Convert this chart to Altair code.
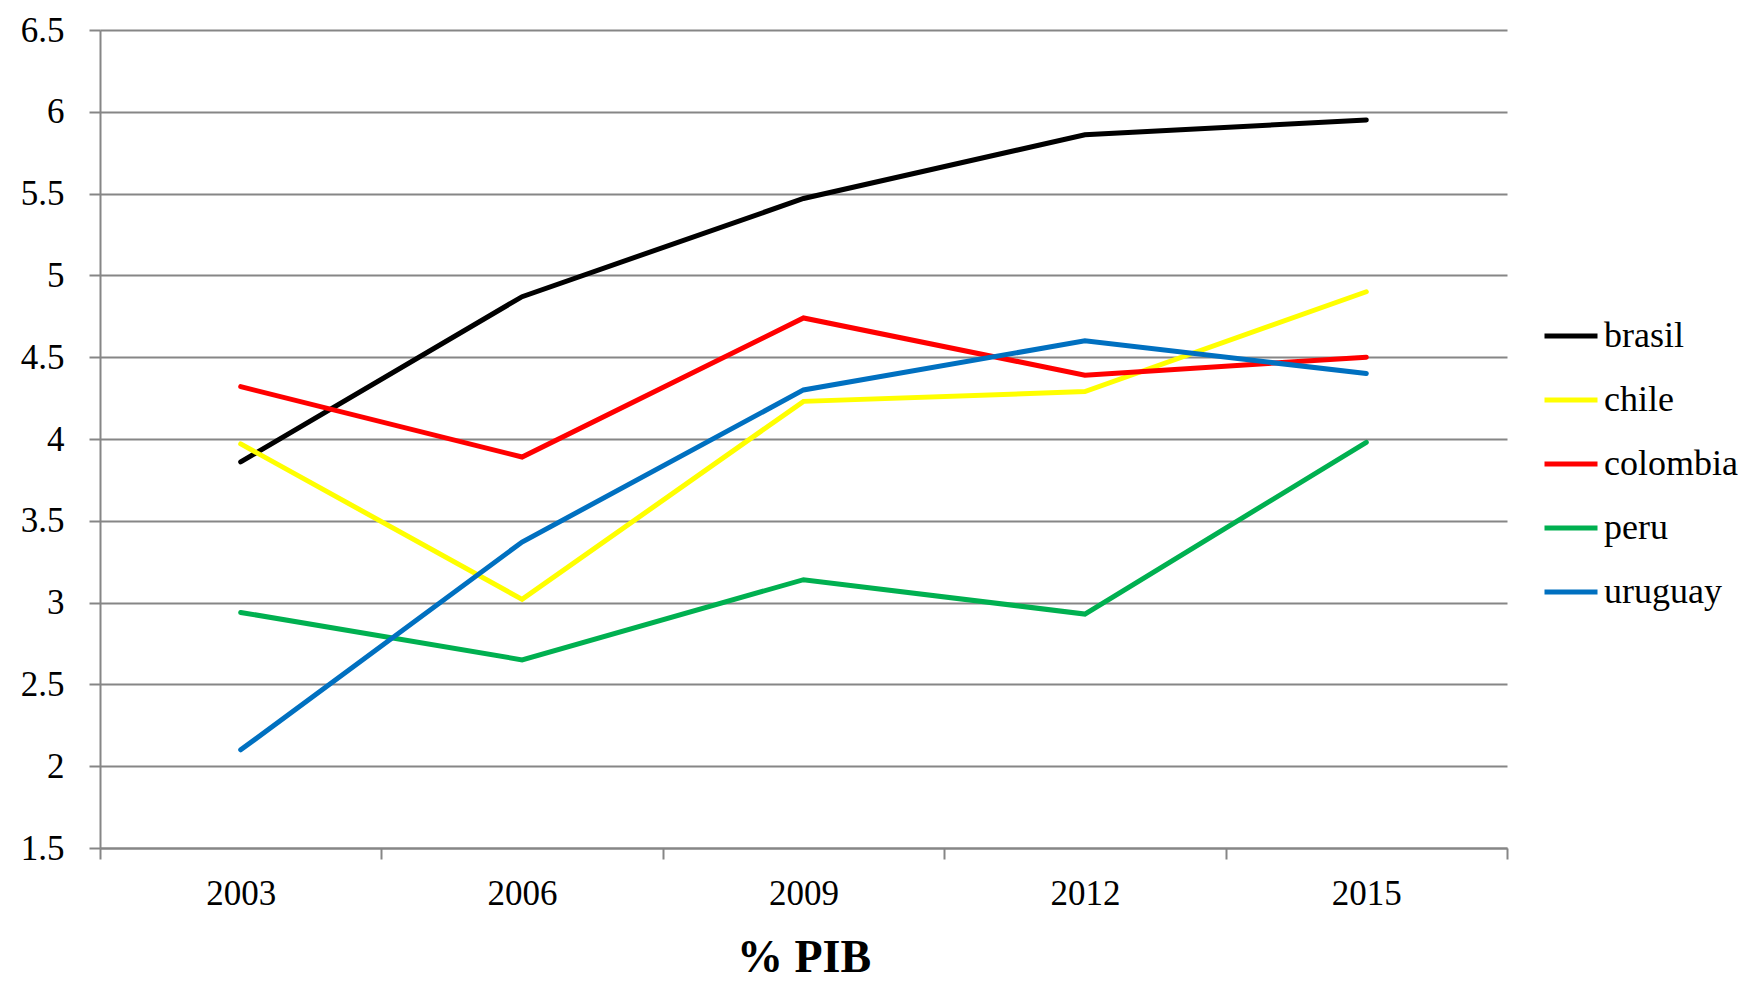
import altair as alt
import pandas as pd

years = ["2003", "2006", "2009", "2012", "2015"]
brasil = [3.86, 4.87, 5.47, 5.86, 5.95]
chile = [3.97, 3.02, 4.23, 4.29, 4.90]
colombia = [4.32, 3.89, 4.74, 4.39, 4.50]
peru = [2.94, 2.65, 3.14, 2.93, 3.98]
uruguay = [2.10, 3.37, 4.30, 4.60, 4.40]

series = {"brasil": brasil, "chile": chile, "colombia": colombia, "peru": peru, "uruguay": uruguay}
names = list(series.keys())
colors = ["#000000", "#FFFF00", "#FF0000", "#00B050", "#0070C0"]

rows = []
for name, vals in series.items():
    for y, v in zip(years, vals):
        rows.append({"year": y, "country": name, "value": v})
df = pd.DataFrame(rows)

FONT = "Liberation Serif"

chart = alt.Chart(df).mark_line(strokeWidth=5, strokeCap="round").encode(
    x=alt.X("year:O", bandPosition=0.5,
            scale=alt.Scale(type="band", paddingInner=0, paddingOuter=0),
            axis=alt.Axis(title="% PIB", labelAngle=0, tickBand="extent",
                          tickSize=11, tickWidth=2, tickColor="#868686",
                          domainColor="#868686", domainWidth=2,
                          labelFont=FONT, labelFontSize=35, labelColor="black",
                          labelPadding=17, grid=False,
                          titleFont=FONT, titleFontSize=46, titleFontWeight="bold",
                          titleColor="black", titlePadding=24)),
    y=alt.Y("value:Q",
            scale=alt.Scale(domain=[1.5, 6.5], nice=False, zero=False),
            axis=alt.Axis(title=None, values=[1.5, 2, 2.5, 3, 3.5, 4, 4.5, 5, 5.5, 6, 6.5],
                          format="~g", tickSize=11, tickWidth=2, tickColor="#868686",
                          domainColor="#868686", domainWidth=2,
                          gridColor="#868686", gridWidth=2,
                          labelFont=FONT, labelFontSize=35, labelColor="black",
                          labelPadding=25)),
    color=alt.Color("country:N",
                    scale=alt.Scale(domain=names, range=colors),
                    legend=alt.Legend(title=None, orient="none", legendX=1442, legendY=277,
                                      symbolType="stroke", symbolSize=2809, symbolStrokeWidth=5,
                                      labelFont=FONT, labelFontSize=36, labelColor="black",
                                      labelOffset=4, rowPadding=17)),
).properties(
    width=1407, height=818,
    autosize=alt.AutoSizeParams(type="none"),
    padding={"left": 92, "top": 22, "right": 233, "bottom": 134},
).configure_view(stroke=None).configure_axis(gridCap="butt")

chart.save("out.html", embed_options={"renderer": "svg", "actions": False})
